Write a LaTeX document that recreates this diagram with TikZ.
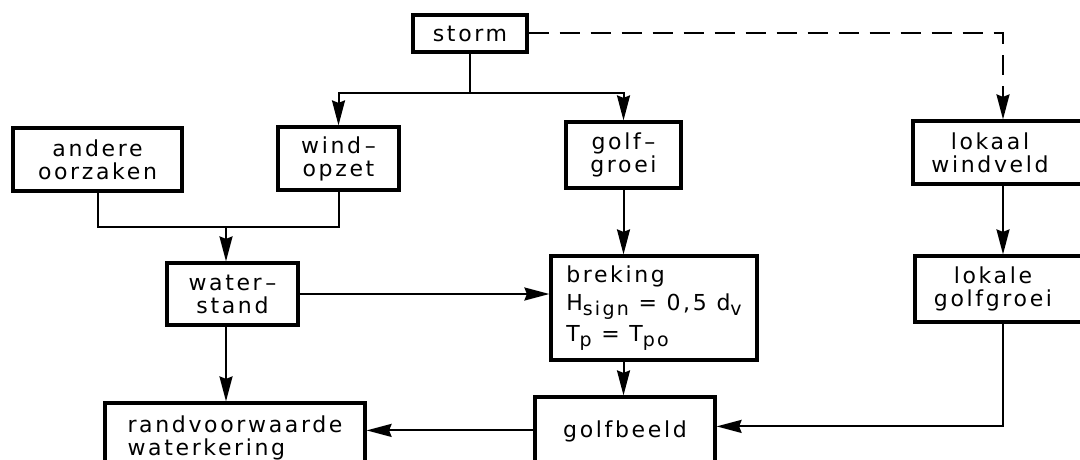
\documentclass[tikz,border=0pt]{standalone}
\usepackage{fontspec}
\setmainfont{DejaVu Sans}[LetterSpace=12]
\usetikzlibrary{arrows.meta,calc}
\newcommand{\lowsub}[1]{\raisebox{-5pt}{\fontsize{19}{19}\selectfont #1}}
\begin{document}
\begin{tikzpicture}[x=1pt,y=-1pt,
  box/.style={draw, line width=3.2pt, inner sep=2pt, align=center, font=\fontsize{22}{23}\selectfont},
  conn/.style={line width=2pt},
  arr/.style={conn, -{Stealth[length=25pt,width=13pt,inset=2.5pt]}},
  dashconn/.style={arr, dash pattern=on 20pt off 11pt}
]
\useasboundingbox (0,0) rectangle (1080,460);
\clip (0,0) rectangle (1080,460);
\fill[white] (0,0) rectangle (1080,460);

\node[box, minimum width=114pt, minimum height=37pt] (storm) at (470,33.5) {storm};
\node[box, minimum width=169pt, minimum height=63pt] (andere) at (97.5,159.5) {andere\\oorzaken};
\node[box, minimum width=121pt, minimum height=63pt] (windopzet) at (338.5,158.5) {wind\,--\\opzet};
\node[box, minimum width=115pt, minimum height=66pt] (golfgroei) at (623.5,155) {golf\,--\\groei};
\node[box, minimum width=180pt, minimum height=63pt] (windveld) at (1003,152.5)
  {lokaal\hspace*{26pt}\\windveld\hspace*{26pt}};
\node[box, minimum width=131pt, minimum height=62pt] (waterstand) at (232.5,294) {water\,--\\stand};
\node[box, minimum width=206pt, minimum height=104pt, align=left] (breking) at (654,308)
  {breking\\[5pt] H\lowsub{sign} = 0,5 d\lowsub{v}\\[5pt] T\lowsub{p} = T\lowsub{po}};
\node[box, minimum width=180pt, minimum height=66pt] (lokgolf) at (1005,289)
  {lokale\hspace*{24pt}\\golfgroei\hspace*{24pt}};
\node[box, minimum width=260pt, minimum height=69pt, align=left] (randv) at (235,437.5)
  {randvoorwaarde\\waterkering};
\node[box, minimum width=180pt, minimum height=68pt] (golfbeeld) at (625,431) {golfbeeld};

\coordinate (split) at (storm.south |- 0,93);
\draw[conn] (storm.south) -- (split);
\draw[arr] (split) -| (windopzet.north);
\draw[arr] (split) -| (golfgroei.north);
\draw[dashconn] (storm.east) -| (windveld.north);

\coordinate (join) at (226,227);
\draw[conn] (andere.south) |- (join) -| (windopzet.south);
\draw[arr] (join) -- (join |- waterstand.north);
\draw[arr] (join |- waterstand.south) -- (join |- randv.north);
\draw[arr] (waterstand.east) -- (waterstand.east -| breking.west);
\draw[arr] (golfgroei.south) -- (golfgroei.south |- breking.north);
\draw[arr] (golfgroei.south |- breking.south) -- (golfgroei.south |- golfbeeld.north);
\draw[arr] (windveld.south) -- (windveld.south |- lokgolf.north);
\coordinate (gbin) at ($(golfbeeld.north east)+(0,31)$);
\coordinate (rvin) at ($(randv.north east)+(0,29)$);
\draw[arr] (lokgolf.south -| windveld.south) |- (gbin);
\draw[arr] (golfbeeld.west |- rvin) -- (rvin);
\end{tikzpicture}
\end{document}
